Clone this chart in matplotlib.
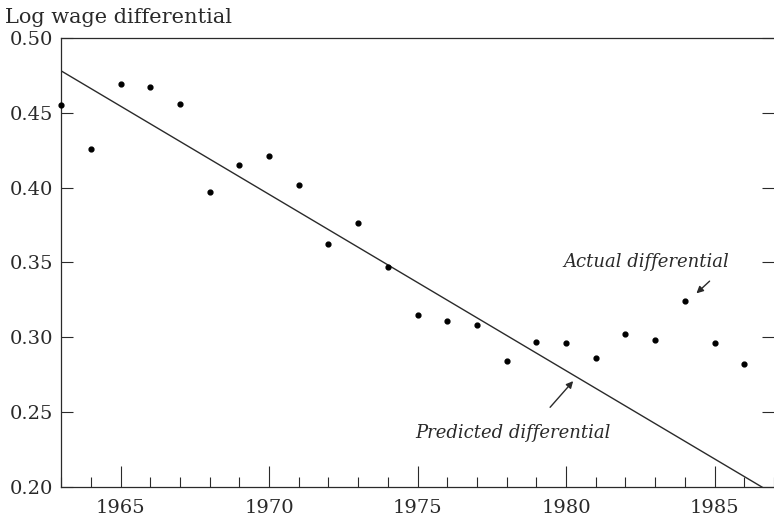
import matplotlib
matplotlib.use("Agg")
import matplotlib.pyplot as plt
from matplotlib.ticker import MultipleLocator

# actual log wage differential
years = [1963, 1964, 1965, 1966, 1967, 1968, 1969, 1970, 1971, 1972,
         1973, 1974, 1975, 1976, 1977, 1978, 1979, 1980, 1981, 1982,
         1983, 1984, 1985, 1986]
actual = [0.455, 0.426, 0.469, 0.467, 0.456, 0.397, 0.415, 0.421, 0.402, 0.362,
          0.376, 0.347, 0.315, 0.311, 0.308, 0.284, 0.297, 0.296, 0.286, 0.302,
          0.298, 0.324, 0.296, 0.282]

# predicted differential (straight trend line, end points)
pred_years = [1963, 1987]
pred_values = [0.478, 0.195]

y_ticks = [0.20, 0.25, 0.30, 0.35, 0.40, 0.45, 0.50]
x_ticks = [1965, 1970, 1975, 1980, 1985]

plt.rcParams['font.family'] = ['DejaVu Serif']
ink = '#2a2a2a'

fig = plt.figure(figsize=(7.74, 5.2), dpi=100)
ax = fig.add_axes([0.079, 0.064, 0.921, 0.863])

ax.plot(pred_years, pred_values, color=ink, lw=1.0)
ax.scatter(years, actual, s=12, color='black', zorder=3, clip_on=False)

ax.set_xlim(1963, 1987)
ax.set_ylim(0.20, 0.50)

ax.xaxis.set_major_locator(MultipleLocator(5))
ax.xaxis.set_minor_locator(MultipleLocator(1))
ax.set_xticks(x_ticks)
ax.set_yticks(y_ticks)
ax.set_yticklabels(['%.2f' % v for v in y_ticks])

ax.tick_params(axis='x', which='major', direction='in', length=15, width=0.8,
               pad=9, labelsize=14, colors=ink)
ax.tick_params(axis='x', which='minor', direction='in', length=7, width=0.8, color=ink)
ax.tick_params(axis='y', direction='in', length=8.5, width=0.8, pad=6,
               labelsize=14, colors=ink, right=True)

ax.spines['right'].set_visible(False)
for s in ['left', 'bottom', 'top']:
    ax.spines[s].set_linewidth(0.9)
    ax.spines[s].set_color(ink)

fig.text(0.006, 0.966, 'Log wage differential', fontsize=15, color=ink, va='center')

ax.text(1985.5, 0.350, 'Actual differential', fontsize=13, style='italic',
        color=ink, ha='right', va='center')
ax.annotate('', xy=(1984.32, 0.328), xytext=(1984.9, 0.3387),
            arrowprops=dict(arrowstyle='-|>', color=ink, lw=1.0, mutation_scale=10))

ax.text(1981.5, 0.2356, 'Predicted differential', fontsize=13, style='italic',
        color=ink, ha='right', va='center')
ax.annotate('', xy=(1980.3, 0.272), xytext=(1979.4, 0.2517),
            arrowprops=dict(arrowstyle='-|>', color=ink, lw=1.0, mutation_scale=10))

fig.savefig('out.png', dpi=100)
